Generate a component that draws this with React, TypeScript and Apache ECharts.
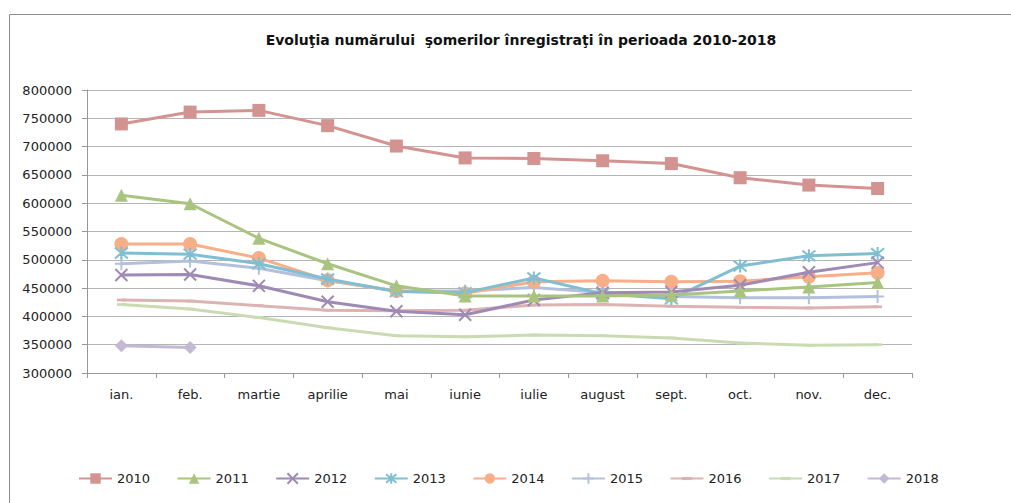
import React, { useEffect, useRef } from "react";
import * as echarts from "echarts";

const months = ["ian.", "feb.", "martie", "aprilie", "mai", "iunie", "iulie", "august", "sept.", "oct.", "nov.", "dec."];
const years = ["2010", "2011", "2012", "2013", "2014", "2015", "2016", "2017", "2018"];

const v2010 = [740000, 761000, 764000, 737000, 701000, 680000, 679000, 675000, 670000, 645000, 632000, 626000];
const v2011 = [614000, 599000, 538000, 493000, 454000, 436000, 436000, 436000, 438000, 445000, 452000, 460000];
const v2012 = [473000, 474000, 454000, 426000, 409000, 403000, 429000, 442000, 443000, 455000, 478000, 495000];
const v2013 = [512000, 510000, 493000, 466000, 444000, 442000, 468000, 440000, 431000, 489000, 507000, 511000];
const v2014 = [528000, 528000, 503000, 464000, 445000, 441000, 461000, 463000, 461000, 462000, 470000, 477000];
const v2015 = [493000, 498000, 485000, 463000, 445000, 445000, 451000, 442000, 435000, 433000, 433000, 435000];
const v2016 = [429000, 427000, 419000, 411000, 410000, 411000, 420000, 421000, 418000, 416000, 415000, 417000];
const v2017 = [421000, 413000, 398000, 380000, 366000, 364000, 367000, 366000, 362000, 353000, 349000, 350000];
const v2018 = [348000, 345000];

const yTicks = { min: 300000, max: 800000, step: 50000 };

const colors = ["#D39391", "#A9C47F", "#9E8AB5", "#80BED2", "#F8AF88", "#B3C0DC", "#DDB3B2", "#CADBB4", "#C3B9D5"];
const dash = "path://M0,0L0,0M0,10L0,10M0,3.5L10,3.5L10,6.5L0,6.5Z";
const symbols = [
  "rect",
  "triangle",
  "path://M0,0L10,10M10,0L0,10",
  "path://M0,0L10,10M10,0L0,10M5,-1L5,11",
  "circle",
  "path://M5,0L5,10M0,5L10,5",
  dash,
  dash,
  "diamond",
];
const sizes: any[] = [13, 13, 12, 13, 14, 13, 9, 9, 13];
const seriesData = [v2010, v2011, v2012, v2013, v2014, v2015, v2016, v2017, v2018];

export default function App() {
  const ref = useRef<HTMLDivElement>(null);
  useEffect(() => {
    document.body.style.margin = "0";
    const chart = echarts.init(ref.current!, undefined, { renderer: "svg" });
    const font = "DejaVu Sans";
    chart.setOption({
      animation: false,
      backgroundColor: "#ffffff",
      title: {
        text: "Evoluţia numărului  şomerilor înregistraţi în perioada 2010-2018",
        left: 516,
        textAlign: "center",
        top: 28,
        textStyle: { fontFamily: font, fontSize: 14, fontWeight: "bold", color: "#111" },
      },
      graphic: [
        {
          type: "rect",
          shape: { x: 9.5, y: 14.5, width: 1020, height: 520 },
          style: { fill: "none", stroke: "#8c8c8c", lineWidth: 1 },
          silent: true,
        },
      ],
      legend: {
        left: 73,
        top: 467,
        itemWidth: 33,
        itemHeight: 13,
        itemGap: 26.5,
        textStyle: { fontFamily: font, fontSize: 13, color: "#222" },
        data: years,
      },
      grid: { left: 87, right: 99, top: 90, bottom: 130, containLabel: false },
      xAxis: {
        type: "category",
        data: months,
        boundaryGap: true,
        axisLine: { lineStyle: { color: "#999", width: 1 } },
        axisTick: { show: true, length: 5, inside: false, lineStyle: { color: "#999" } },
        axisLabel: { fontFamily: font, fontSize: 13, color: "#222", margin: 15 },
        splitLine: { show: false },
      },
      yAxis: {
        type: "value",
        min: yTicks.min,
        max: yTicks.max,
        interval: yTicks.step,
        axisLine: { show: true, lineStyle: { color: "#999", width: 1 } },
        axisTick: { show: true, length: 5, lineStyle: { color: "#999" } },
        axisLabel: {
          fontFamily: font,
          fontSize: 13,
          color: "#222",
          margin: 15,
          formatter: (v: number) => String(v),
        },
        splitLine: { show: true, lineStyle: { color: "#B5B5B5", width: 1 } },
      },
      series: years.map((y, i) => ({
        name: y,
        type: "line",
        data: seriesData[i],
        symbol: symbols[i],
        symbolSize: sizes[i],
        showAllSymbol: true,
        lineStyle: { color: colors[i], width: 3 },
        itemStyle: {
          color: colors[i],
          borderColor: colors[i],
          borderWidth: i === 2 || i === 3 || i === 5 ? 2 : 0,
        },
        z: 10 - i,
      })),
    });
    return () => chart.dispose();
  }, []);
  return <div ref={ref} style={{ width: 1011, height: 503 }} />;
}
